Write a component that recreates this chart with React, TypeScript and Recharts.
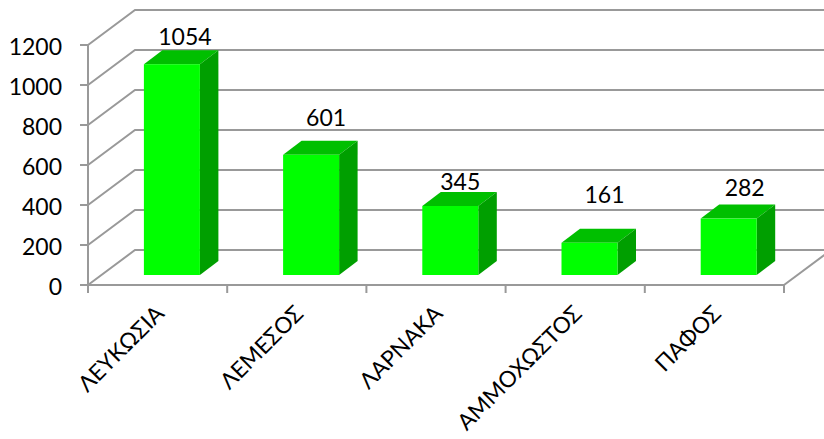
import { BarChart, Bar, XAxis, YAxis, CartesianGrid, LabelList } from "recharts"

const districts = ["ΛΕΥΚΩΣΙΑ", "ΛΕΜΕΣΟΣ", "ΛΑΡΝΑΚΑ", "ΑΜΜΟΧΩΣΤΟΣ", "ΠΑΦΟΣ"]
const totals = [1054, 601, 345, 161, 282]
const yTicks = [0, 200, 400, 600, 800, 1000, 1200]

const data = districts.map((name, i) => ({ name, total: totals[i] }))

// hand placed data labels in the original, offset from the bar's front top centre
const labelShift = [
  [13, -28],
  [15, -38],
  [10, -25],
  [15, -49],
  [16, -32],
]

const FONT = "Lato, Carlito, 'Open Sans', sans-serif"
const GRID = "#999999"
const WIDTH = 824
const HEIGHT = 439
const LEFT = 88
const RIGHT = 784
const BAND = (RIGHT - LEFT) / districts.length
const WALL_X = 47
const WALL_Y = 35
const DEPTH_X = 18.5
const DEPTH_Y = 14
const SHIFT_X = 13.9
const SHIFT_Y = 10

const WallLine = ({ x1, y1, x2 }: any) => (
  <polyline
    points={`${x1},${y1} ${x1 + WALL_X},${y1 - WALL_Y} ${x2 + WALL_X},${y1 - WALL_Y}`}
    fill="none"
    stroke={GRID}
    strokeWidth={2}
  />
)

const FloorEdge = ({ y, x }: any) => (
  <line x1={x} y1={y} x2={x + WALL_X} y2={y - WALL_Y} stroke={GRID} strokeWidth={2} />
)

const Box = ({ x, y, width, height }: any) => {
  const l = x + SHIFT_X
  const r = l + width
  const t = y - SHIFT_Y
  const b = t + height
  return (
    <g>
      <polygon
        points={`${l},${t} ${l + DEPTH_X},${t - DEPTH_Y} ${r + DEPTH_X},${t - DEPTH_Y} ${r},${t}`}
        fill="#00BF00"
      />
      <polygon
        points={`${r},${t} ${r + DEPTH_X},${t - DEPTH_Y} ${r + DEPTH_X},${b - DEPTH_Y} ${r},${b}`}
        fill="#009F00"
      />
      <rect x={l} y={t} width={width} height={height} fill="#00FF00" />
    </g>
  )
}

const CategoryTick = ({ x, y, payload, index }: any) => (
  <g>
    <line x1={x - BAND / 2} y1={y} x2={x - BAND / 2} y2={y + 8} stroke={GRID} strokeWidth={2} />
    {index === districts.length - 1 && (
      <>
        <line x1={x + BAND / 2} y1={y} x2={x + BAND / 2} y2={y + 8} stroke={GRID} strokeWidth={2} />
        <FloorEdge x={x + BAND / 2} y={y} />
      </>
    )}
    <text
      x={x + 8}
      y={y + 30}
      textAnchor="end"
      transform={`rotate(-45 ${x + 8} ${y + 30})`}
      fontFamily={FONT}
      fontSize={22.5}
      fill="#000000"
    >
      {payload.value}
    </text>
  </g>
)

const ValueTick = ({ x, y, payload }: any) => (
  <text
    x={x}
    y={y + 1}
    textAnchor="end"
    dominantBaseline="central"
    fontFamily={FONT}
    fontSize={23}
    fill="#000000"
  >
    {payload.value}
  </text>
)

const ValueLabel = ({ x, y, width, value, index }: any) => (
  <text
    x={x + width / 2 + SHIFT_X + labelShift[index][0]}
    y={y - SHIFT_Y + labelShift[index][1]}
    textAnchor="middle"
    dominantBaseline="central"
    fontFamily={FONT}
    fontSize={23}
    fill="#000000"
  >
    {value}
  </text>
)

export default function App() {
  return (
    <div style={{ position: "absolute", left: 0, top: 0, width: WIDTH, height: HEIGHT, overflow: "hidden" }}>
      <BarChart
        width={WIDTH}
        height={HEIGHT}
        data={data}
        margin={{ top: 45, right: WIDTH - RIGHT, bottom: 0, left: 0 }}
        barSize={56}
      >
        <CartesianGrid vertical={false} horizontal={(props: any) => <WallLine key={props.index} {...props} />} />
        <XAxis
          dataKey="name"
          interval={0}
          height={154}
          tickSize={0}
          tickMargin={0}
          tickLine={false}
          axisLine={{ stroke: GRID, strokeWidth: 2 }}
          tick={CategoryTick}
        />
        <YAxis
          width={LEFT}
          domain={[0, 1200]}
          ticks={yTicks}
          interval={0}
          tickSize={8}
          tickMargin={18}
          axisLine={{ stroke: GRID, strokeWidth: 2 }}
          tickLine={{ stroke: GRID, strokeWidth: 2 }}
          tick={ValueTick}
        />
        <Bar dataKey="total" isAnimationActive={false} shape={Box}>
          <LabelList dataKey="total" content={ValueLabel} />
        </Bar>
      </BarChart>
    </div>
  )
}
